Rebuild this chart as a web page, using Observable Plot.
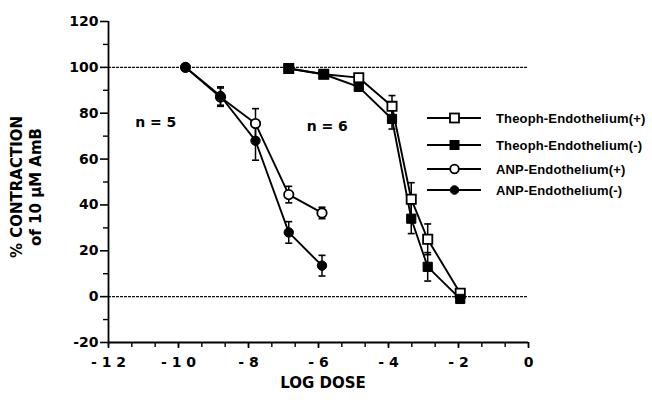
<!DOCTYPE html>
<html>
<head>
<meta charset="utf-8">
<script src="https://cdn.jsdelivr.net/npm/d3@7"></script>
<script src="https://cdn.jsdelivr.net/npm/@observablehq/plot@0.6"></script>
<style>
  html, body { margin: 0; padding: 0; background: white; }
  #wrap { position: relative; width: 652px; height: 404px; overflow: hidden; font-family: "DejaVu Sans", Arial, sans-serif; font-weight: bold; color: black; }
  #ytitle { position: absolute; left: -53px; top: 168px; width: 160px; height: 38px; line-height: 19px; font-size: 15px; text-align: center; transform: rotate(-90deg); transform-origin: 50% 50%; white-space: nowrap; }
  #xtitle { position: absolute; left: 243px; top: 374px; width: 160px; text-align: center; font-size: 15px; }
  .leg { position: absolute; left: 426px; width: 226px; height: 16px; display: flex; align-items: center; font-family: "Liberation Sans", Arial, sans-serif; font-size: 13px; white-space: nowrap; letter-spacing: 0.15px; }
  .leg svg { margin-right: 14px; flex: none; }
</style>
</head>
<body>
<div id="wrap"></div>
<script>
// ---- data ----
const anpDose = [-9.8, -8.8, -7.8, -6.85, -5.9];
const anpPlus = [100, 87, 75.5, 44.5, 36.5];
const anpPlusErr = [0, 4, 6.5, 3.6, 2.5];
const anpMinus = [100, 87.5, 68, 28, 13.5];
const anpMinusErr = [0, 4, 8.5, 4.7, 4.5];

const theophDose = [-6.85, -5.85, -4.85, -3.9, -3.35, -2.88, -1.95];
const theophPlus = [99.5, 97, 95.5, 83, 42.5, 25, 1.5];
const theophPlusErr = [0, 0, 1, 4.7, 7.2, 6.7, 0];
const theophMinus = [99.5, 97, 91.5, 77.5, 34, 13, -1];
const theophMinusErr = [0, 0, 1, 4.4, 6.5, 6.2, 0];

const seriesNames = ["Theoph-Endothelium(+)", "Theoph-Endothelium(-)", "ANP-Endothelium(+)", "ANP-Endothelium(-)"];
const seriesSymbols = ["square", "square", "circle", "circle"];
const seriesFilled = [false, true, false, true];

const xTicks = [-12, -10, -8, -6, -4, -2, 0];
const xTickLabels = ["- 1 2", "- 1 0", "- 8", "- 6", "- 4", "- 2", "0"];
const yTicks = [-20, 0, 20, 40, 60, 80, 100, 120];
const yMinorTicks = [-10, 10, 30, 50, 70, 90, 110];
const refLines = [100, 0];
const noteLabels = ["n = 5", "n = 6"];
const noteX = [-10.65, -5.75];
const noteY = [76, 74];

// ---- build tidy rows ----
function rows(name, dose, val, err) {
  return dose.map((d, i) => ({series: name, x: d, y: val[i], e: err[i]}));
}
const seriesRows = [
  rows(seriesNames[0], theophDose, theophPlus, theophPlusErr),
  rows(seriesNames[1], theophDose, theophMinus, theophMinusErr),
  rows(seriesNames[2], anpDose, anpPlus, anpPlusErr),
  rows(seriesNames[3], anpDose, anpMinus, anpMinusErr)
];
const all = seriesRows.flat();
const withErr = all.filter(d => d.e > 0);
const xMinorTicks = d3.range(-36, 1, 2).map(k => k / 3);
const notes = noteLabels.map((t, i) => ({t, x: noteX[i], y: noteY[i]}));

const capSymbol = { draw(ctx) { ctx.moveTo(-3.5, 0); ctx.lineTo(3.5, 0); } };

const dotMarks = [2, 3, 0, 1].map(i => Plot.dot(seriesRows[i], {
  x: "x", y: "y",
  symbol: seriesSymbols[i],
  r: seriesSymbols[i] === "square" ? 5.2 : 4.7,
  fill: seriesFilled[i] ? "black" : "white",
  stroke: "black",
  strokeWidth: seriesFilled[i] ? 1 : 1.8
}));

const chart = Plot.plot({
  width: 652, height: 404,
  marginLeft: 108, marginRight: 124, marginTop: 21, marginBottom: 62,
  x: {domain: [-12, 0]},
  y: {domain: [-20, 120]},
  style: {fontFamily: "'DejaVu Sans', Arial, sans-serif", fontWeight: "bold", fontSize: "14px", color: "black", background: "white"},
  marks: [
    Plot.ruleY(refLines, {x1: -12, x2: 0, y: d => d, stroke: "#111", strokeWidth: 1.2, strokeDasharray: "3,1"}),
    Plot.ruleX([-12], {y1: -20, y2: 120, stroke: "black", strokeWidth: 1.8}),
    Plot.ruleY([-20], {x1: -12, x2: 0, stroke: "black", strokeWidth: 1.8}),
    Plot.axisY({ticks: yTicks, tickSize: 8, tickPadding: 2, label: null, tickFormat: d => String(d), strokeWidth: 1.6, fontSize: 14}),
    Plot.axisY({ticks: yMinorTicks, tickSize: 5, label: null, tickFormat: () => "", strokeWidth: 1.4}),
    Plot.axisX({ticks: xTicks, tickSize: 6, tickPadding: 9, label: null, tickFormat: d => xTickLabels[xTicks.indexOf(d)], strokeWidth: 1.6, fontSize: 14}),
    Plot.axisX({ticks: xMinorTicks, tickSize: 5, label: null, tickFormat: () => "", strokeWidth: 1.4}),
    Plot.text(notes, {x: "x", y: "y", text: "t", fontSize: 14, fontWeight: "bold", fill: "black"}),
    ...seriesRows.map(s => Plot.line(s, {x: "x", y: "y", stroke: "black", strokeWidth: 1.9})),
    Plot.ruleX(withErr, {x: "x", y1: d => d.y - d.e, y2: d => d.y + d.e, stroke: "black", strokeWidth: 1.5}),
    Plot.dot(withErr, {x: "x", y: d => d.y - d.e, symbol: capSymbol, stroke: "black", strokeWidth: 1.6}),
    Plot.dot(withErr, {x: "x", y: d => d.y + d.e, symbol: capSymbol, stroke: "black", strokeWidth: 1.6}),
    ...dotMarks
  ]
});
chart.style.position = "absolute";
chart.style.left = "0px";
chart.style.top = "0px";

const wrap = document.getElementById("wrap");
wrap.appendChild(chart);

const yt = document.createElement("div");
yt.id = "ytitle";
yt.innerHTML = "% CONTRACTION<br>of 10 \u03BCM AmB";
wrap.appendChild(yt);

const xt = document.createElement("div");
xt.id = "xtitle";
xt.textContent = "LOG DOSE";
wrap.appendChild(xt);

// legend
const legTops = [110, 137, 161, 182];
seriesNames.forEach((name, i) => {
  const row = document.createElement("div");
  row.className = "leg";
  row.style.top = legTops[i] + "px";
  const ns = "http://www.w3.org/2000/svg";
  const svg = document.createElementNS(ns, "svg");
  svg.setAttribute("width", 56); svg.setAttribute("height", 16);
  const ln = document.createElementNS(ns, "line");
  ln.setAttribute("x1", 1); ln.setAttribute("x2", 55); ln.setAttribute("y1", 8); ln.setAttribute("y2", 8);
  ln.setAttribute("stroke", "black"); ln.setAttribute("stroke-width", 1.8);
  svg.appendChild(ln);
  let m;
  if (seriesSymbols[i] === "square") {
    m = document.createElementNS(ns, "rect");
    m.setAttribute("x", 24); m.setAttribute("y", 3.5); m.setAttribute("width", 9); m.setAttribute("height", 9);
  } else {
    m = document.createElementNS(ns, "circle");
    m.setAttribute("cx", 28.5); m.setAttribute("cy", 8); m.setAttribute("r", 4.3);
  }
  m.setAttribute("fill", seriesFilled[i] ? "black" : "white");
  m.setAttribute("stroke", "black"); m.setAttribute("stroke-width", seriesFilled[i] ? 1 : 1.8);
  svg.appendChild(m);
  row.appendChild(svg);
  const tx = document.createElement("span");
  tx.textContent = name;
  row.appendChild(tx);
  wrap.appendChild(row);
});
</script>
</body>
</html>
